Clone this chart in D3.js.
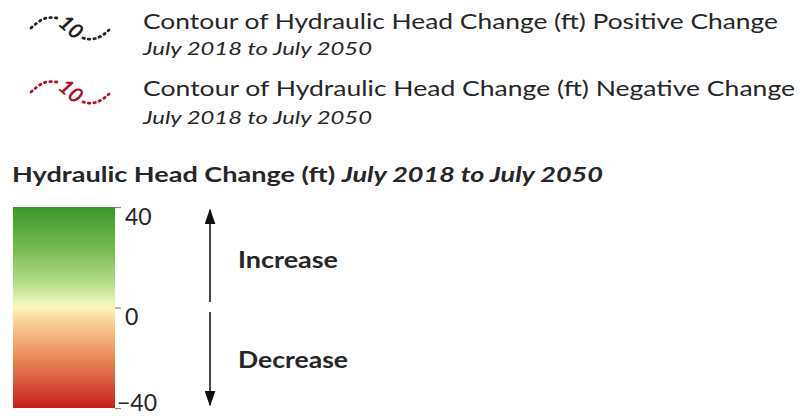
<!DOCTYPE html>
<html>
<head>
<meta charset="utf-8">
<script src="https://cdn.jsdelivr.net/npm/d3@7"></script>
<style>
  body { margin: 0; background: #fff; }
  text { font-family: Lato, "Open Sans", sans-serif; fill: #262626; }
</style>
</head>
<body>
<svg id="chart" width="802" height="416"></svg>
<script>
'use strict';

// legend entries
const contourLabels = ['Contour of Hydraulic Head Change (ft) Positive Change',
                       'Contour of Hydraulic Head Change (ft) Negative Change'];
const contourColors = ['#222222', '#b0142a'];
const periodLabel = 'July 2018 to July 2050';

// colour ramp
const rampValues = [40, 25, 10, 2, 0, -5, -20, -40];
const rampColors = ['#3b972b', '#70b64f', '#b4db86', '#eaf6bd', '#fff5bd', '#f9d49b', '#ea8a5a', '#c61f1c'];
const tickValues = [40, 0, -40];
const directionLabels = ['Increase', 'Decrease'];

const svg = d3.select('#chart');

const fitText = function(sel, width) {
  sel.attr('textLength', width).attr('lengthAdjust', 'spacingAndGlyphs');
};

// contour symbols
const leftPts = [[0, 16], [8, 9], [16, 5], [26, 6]];
const rightPts = [[52, 26], [60, 28], [70, 25], [78, 18]];
const line = d3.line().curve(d3.curveBasis);

contourLabels.forEach((label, i) => {
  const g = svg.append('g').attr('transform', `translate(31, ${12 + i * 64})`);
  [leftPts, rightPts].forEach(pts => {
    g.append('path')
      .attr('d', line(pts))
      .attr('fill', 'none')
      .attr('stroke', contourColors[i])
      .attr('stroke-width', 2.8)
      .attr('stroke-linecap', 'round')
      .attr('stroke-dasharray', '1.5,4');
  });
  g.append('text')
    .attr('transform', 'translate(40, 15) rotate(40)')
    .attr('text-anchor', 'middle')
    .attr('dy', '0.35em')
    .style('font-size', '21px')
    .style('font-style', 'italic')
    .style('font-weight', 'bold')
    .style('fill', contourColors[i])
    .text('10');

  svg.append('text')
    .attr('x', 143).attr('y', 29 + i * 67)
    .style('font-size', '22px')
    .text(label)
    .call(fitText, i === 0 ? 635 : 652);
  svg.append('text')
    .attr('x', 143).attr('y', 55 + i * 69)
    .style('font-size', '17px')
    .style('font-style', 'italic')
    .text(periodLabel)
    .call(fitText, 229);
});

// title
const title = svg.append('text').attr('x', 12).attr('y', 182)
  .style('font-size', '21px').style('font-weight', 'bold');
title.append('tspan').text('Hydraulic Head Change (ft) ');
title.append('tspan').style('font-style', 'italic').text(periodLabel);
title.call(fitText, 591);

// colour bar
const y = d3.scaleLinear().domain([40, -40]).range([207, 408]);
const defs = svg.append('defs');
const grad = defs.append('linearGradient')
  .attr('id', 'ramp').attr('x1', 0).attr('y1', 0).attr('x2', 0).attr('y2', 1);
rampValues.forEach((v, i) => {
  grad.append('stop')
    .attr('offset', (y(v) - y(40)) / (y(-40) - y(40)))
    .attr('stop-color', rampColors[i]);
});
svg.append('rect')
  .attr('x', 13).attr('y', y(40))
  .attr('width', 102).attr('height', y(-40) - y(40))
  .attr('fill', 'url(#ramp)');

const axis = svg.append('g')
  .attr('transform', 'translate(115, 0)')
  .call(d3.axisRight(y).tickValues(tickValues).tickSize(6).tickPadding(4).tickFormat(d3.format('d')));
axis.select('.domain').remove();
axis.selectAll('.tick line').attr('stroke', '#888').attr('stroke-width', 1.2);
axis.selectAll('.tick text')
  .style('font-family', 'Lato, "Open Sans", sans-serif')
  .style('font-size', '23px')
  .style('fill', '#262626')
  .attr('dy', 0)
  .attr('y', (d, i) => [17, 17, 2][i])
  .attr('x', d => d < 0 ? 2 : 10);

// direction arrows
defs.append('marker')
  .attr('id', 'head').attr('viewBox', '0 0 10 10')
  .attr('refX', 9).attr('refY', 5)
  .attr('markerWidth', 16).attr('markerHeight', 11)
  .attr('markerUnits', 'userSpaceOnUse')
  .attr('orient', 'auto')
  .attr('preserveAspectRatio', 'none')
  .append('path').attr('d', 'M0,0 L10,5 L0,10 Z').attr('fill', '#111');

const arrowX = 210;
[[302, 210], [312, 405]].forEach(([a, b]) => {
  svg.append('line')
    .attr('x1', arrowX).attr('y1', a).attr('x2', arrowX).attr('y2', b)
    .attr('stroke', '#444').attr('stroke-width', 2)
    .attr('marker-end', 'url(#head)');
});

directionLabels.forEach((label, i) => {
  svg.append('text')
    .attr('x', 238).attr('y', 268 + i * 100)
    .style('font-size', '22px').style('font-weight', 'bold')
    .text(label)
    .call(fitText, i === 0 ? 100 : 110);
});
</script>
</body>
</html>
